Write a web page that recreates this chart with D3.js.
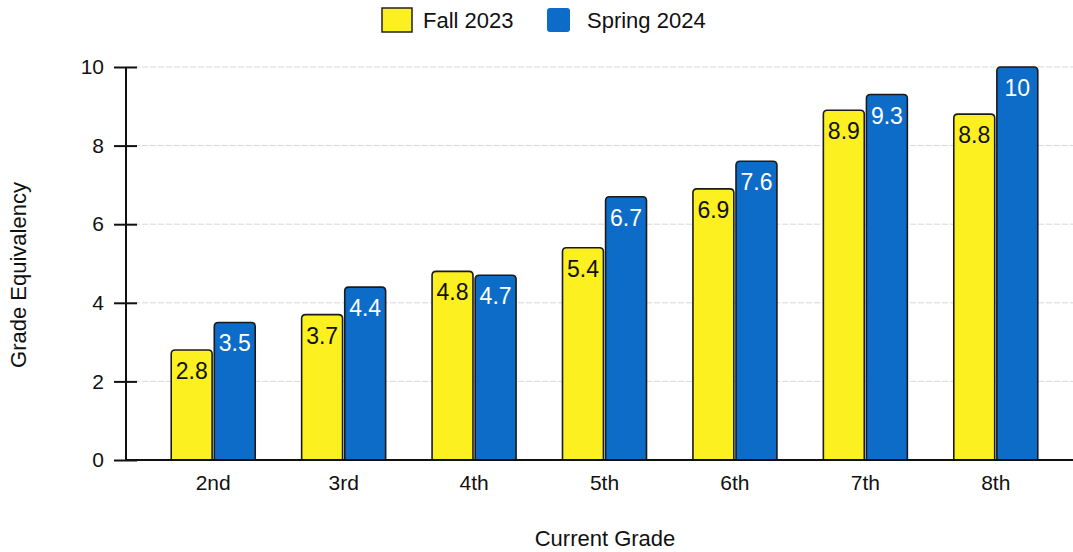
<!DOCTYPE html>
<html>
<head>
<meta charset="utf-8">
<script src="https://cdn.jsdelivr.net/npm/d3@7"></script>
<style>
  body { margin: 0; background: #fff; }
  text { font-family: "Liberation Sans", Arial, sans-serif; }
</style>
</head>
<body>
<div id="chart"></div>
<script>
var grades = ["2nd", "3rd", "4th", "5th", "6th", "7th", "8th"];
var seriesNames = ["Fall 2023", "Spring 2024"];
var fall2023 = [2.8, 3.7, 4.8, 5.4, 6.9, 8.9, 8.8];
var spring2024 = [3.5, 4.4, 4.7, 6.7, 7.6, 9.3, 10];
var yTicks = [0, 2, 4, 6, 8, 10];

var colors = ["#fcf020", "#0d6cc7"];
var labelColors = ["#111", "#fff"];

var width = 1073, height = 552;
var svg = d3.select("#chart").append("svg")
    .attr("width", width)
    .attr("height", height);

// scales
var x = d3.scaleBand()
    .domain(grades)
    .range([148, 1061])
    .padding(0);

var xSub = d3.scaleBand()
    .domain(seriesNames)
    .range([-42, 42])
    .paddingInner(0.05);

var y = d3.scaleLinear()
    .domain([0, 10])
    .range([460, 67]);

// grid lines
svg.append("g")
    .selectAll("line")
    .data(yTicks.filter(d => d > 0))
    .enter().append("line")
    .attr("x1", 126).attr("x2", 1073)
    .attr("y1", d => y(d)).attr("y2", d => y(d))
    .attr("stroke", "#d8d8d8")
    .attr("stroke-width", 1)
    .attr("stroke-dasharray", "6,2");

// y axis
var yAxis = svg.append("g")
    .attr("transform", "translate(126,0)")
    .call(d3.axisLeft(y).tickValues(yTicks).tickSize(12).tickPadding(10));
yAxis.select(".domain").remove();
yAxis.selectAll(".tick line").attr("x2", -12).attr("x1", 11)
    .attr("stroke", "#111").attr("stroke-width", 2);
yAxis.selectAll(".tick text").attr("font-size", 21).attr("fill", "#111")
    .attr("x", -22);
svg.append("line")
    .attr("x1", 126).attr("x2", 126)
    .attr("y1", y(10)).attr("y2", y(0))
    .attr("stroke", "#111").attr("stroke-width", 2);

// bars
var data = grades.map(function (g, i) {
    return { grade: g, values: [fall2023[i], spring2024[i]] };
});

var groups = svg.append("g")
    .selectAll("g")
    .data(data)
    .enter().append("g")
    .attr("transform", d => "translate(" + (x(d.grade) + x.bandwidth() / 2) + ",0)");

groups.selectAll("path")
    .data(d => d.values.map((v, j) => ({ v: v, s: seriesNames[j], j: j })))
    .enter().append("path")
    .attr("d", function (d) {
        var x0 = xSub(d.s), w = xSub.bandwidth();
        var top = y(d.v), bot = y(0), r = 4;
        return "M" + x0 + "," + bot +
            "V" + (top + r) +
            "Q" + x0 + "," + top + " " + (x0 + r) + "," + top +
            "H" + (x0 + w - r) +
            "Q" + (x0 + w) + "," + top + " " + (x0 + w) + "," + (top + r) +
            "V" + bot;
    })
    .attr("fill", d => colors[d.j])
    .attr("stroke", "#1a1a1a")
    .attr("stroke-width", 1.6);

groups.selectAll("text")
    .data(d => d.values.map((v, j) => ({ v: v, s: seriesNames[j], j: j })))
    .enter().append("text")
    .attr("x", d => xSub(d.s) + xSub.bandwidth() / 2)
    .attr("y", d => y(d.v) + 29)
    .attr("text-anchor", "middle")
    .attr("font-size", 23)
    .attr("fill", d => labelColors[d.j])
    .text(d => d.v);

// x axis
svg.append("line")
    .attr("x1", 126).attr("x2", 1073)
    .attr("y1", y(0)).attr("y2", y(0))
    .attr("stroke", "#111").attr("stroke-width", 2);

svg.append("g")
    .selectAll("text")
    .data(grades)
    .enter().append("text")
    .attr("x", d => x(d) + x.bandwidth() / 2)
    .attr("y", 490)
    .attr("text-anchor", "middle")
    .attr("font-size", 21)
    .attr("fill", "#111")
    .text(d => d);

// axis titles
svg.append("text")
    .attr("x", 605).attr("y", 546)
    .attr("text-anchor", "middle")
    .attr("font-size", 22)
    .attr("fill", "#111")
    .text("Current Grade");

svg.append("text")
    .attr("transform", "translate(26,275) rotate(-90)")
    .attr("text-anchor", "middle")
    .attr("font-size", 22)
    .attr("fill", "#111")
    .text("Grade Equivalency");

// legend
var legendX = [382, 547];
var legend = svg.append("g")
    .selectAll("g")
    .data(seriesNames)
    .enter().append("g")
    .attr("transform", (d, i) => "translate(" + legendX[i] + ",8)");

legend.append("rect")
    .attr("width", (d, i) => i === 0 ? 30 : 23)
    .attr("height", 24)
    .attr("rx", (d, i) => i === 0 ? 0 : 3)
    .attr("fill", (d, i) => colors[i])
    .attr("stroke", (d, i) => i === 0 ? "#222" : "none")
    .attr("stroke-width", 1.5);

legend.append("text")
    .attr("x", (d, i) => i === 0 ? 41 : 40)
    .attr("y", 20)
    .attr("font-size", 22)
    .attr("fill", "#111")
    .text(d => d);
</script>
</body>
</html>
